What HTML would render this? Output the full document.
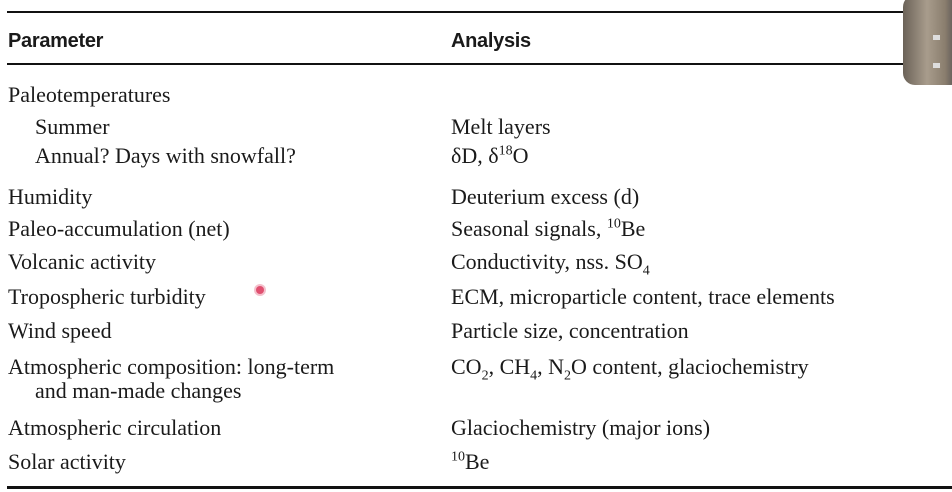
<!DOCTYPE html>
<html><head><meta charset="utf-8"><style>
body{margin:0;width:952px;height:492px;background:#fff;position:relative;overflow:hidden;font-family:"Liberation Serif",serif;color:#1a1a1a}
.l{position:absolute;left:7px;width:945px;background:#111}
.t{position:absolute;font-size:22px;white-space:nowrap;line-height:1}
.h{font-family:"Liberation Sans",sans-serif;font-weight:bold;font-size:20px;letter-spacing:-0.3px}
sub,sup{font-size:14px;line-height:0}
</style></head><body>
<div class="l" style="top:11px;height:2px"></div>
<div class="t h" style="left:8px;top:31px">Parameter</div>
<div class="t h" style="left:451px;top:31px">Analysis</div>
<div class="l" style="top:63px;height:2px"></div>

<div class="t" style="left:8px;top:84px">Paleotemperatures</div>
<div class="t" style="left:35px;top:116px">Summer</div>
<div class="t" style="left:451px;top:116px">Melt layers</div>
<div class="t" style="left:35px;top:145px">Annual? Days with snowfall?</div>
<div class="t" style="left:451px;top:145px">δD, δ<sup>18</sup>O</div>
<div class="t" style="left:8px;top:186px">Humidity</div>
<div class="t" style="left:451px;top:186px">Deuterium excess (d)</div>
<div class="t" style="left:8px;top:218px">Paleo-accumulation (net)</div>
<div class="t" style="left:451px;top:218px">Seasonal signals, <sup>10</sup>Be</div>
<div class="t" style="left:8px;top:251px">Volcanic activity</div>
<div class="t" style="left:451px;top:251px">Conductivity, nss. SO<sub>4</sub></div>
<div class="t" style="left:8px;top:286px">Tropospheric turbidity</div>
<div style="position:absolute;left:256px;top:286px;width:8px;height:8px;border-radius:50%;background:#e05070;box-shadow:0 0 0 2px #f4c0cc"></div>
<div class="t" style="left:451px;top:286px">ECM, microparticle content, trace elements</div>
<div class="t" style="left:8px;top:320px">Wind speed</div>
<div class="t" style="left:451px;top:320px">Particle size, concentration</div>
<div class="t" style="left:8px;top:356px">Atmospheric composition: long-term</div>
<div class="t" style="left:35px;top:380px">and man-made changes</div>
<div class="t" style="left:451px;top:356px">CO<sub>2</sub>, CH<sub>4</sub>, N<sub>2</sub>O content, glaciochemistry</div>
<div class="t" style="left:8px;top:417px">Atmospheric circulation</div>
<div class="t" style="left:451px;top:417px">Glaciochemistry (major ions)</div>
<div class="t" style="left:8px;top:451px">Solar activity</div>
<div class="t" style="left:451px;top:451px"><sup>10</sup>Be</div>
<div class="l" style="top:486px;height:3px"></div>

<div style="position:absolute;left:903px;top:-5px;width:60px;height:90px;border-radius:12px;background:linear-gradient(90deg,#6b6258 0%,#a89c8c 40%,#8a7e6e 70%,#3a3a44 100%)">
<div style="position:absolute;left:30px;top:40px;width:7px;height:5px;background:#ddd"></div>
<div style="position:absolute;left:30px;top:68px;width:7px;height:5px;background:#ddd"></div>
</div>
</body></html>
